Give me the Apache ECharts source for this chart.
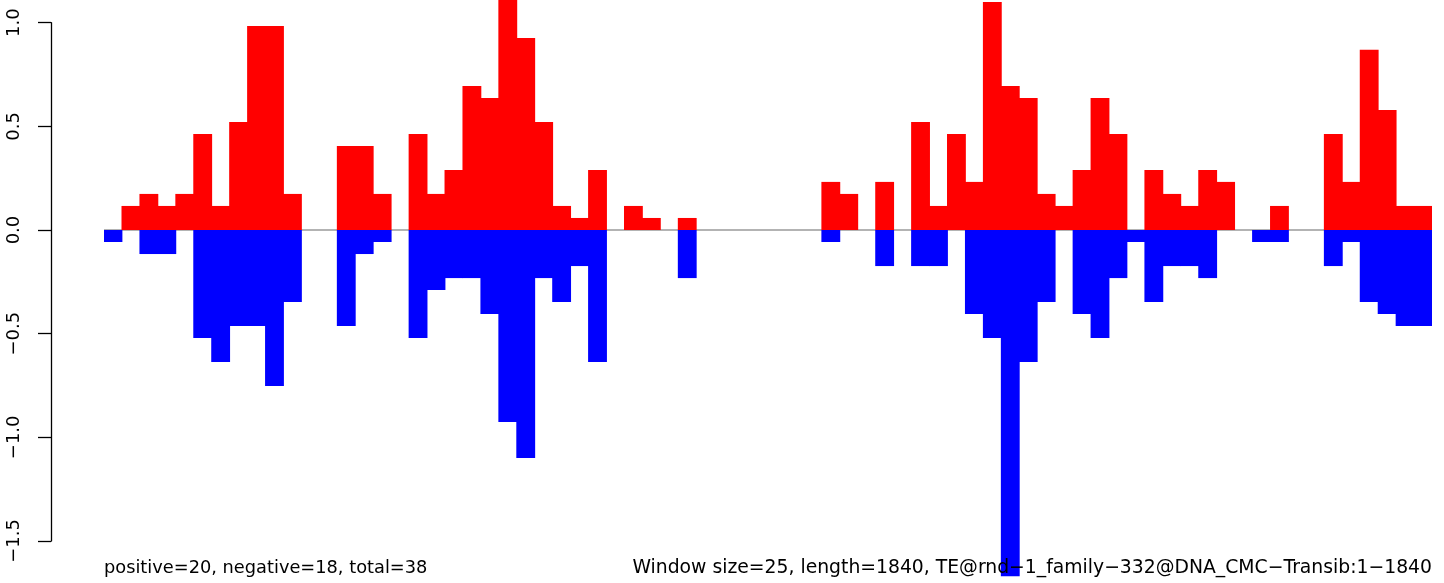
<!DOCTYPE html>
<html>
<head>
<meta charset="utf-8">
<script src="https://cdn.jsdelivr.net/npm/echarts@6/dist/echarts.min.js"></script>
<style>
html,body{margin:0;padding:0;background:#fff;}
#chart{width:1444px;height:583px;}
</style>
</head>
<body>
<div id="chart"></div>
<script>
// window index (74 windows of 25 bp over 1840 bp)
const windows = Array.from({length: 74}, (_, i) => String(i + 1));

const positive = [
  null, 0.116, 0.174, 0.116, 0.174, 0.463, 0.116, 0.521, 0.984, 0.984,
  0.174, null, null, 0.405, 0.405, 0.174, null, 0.463, 0.174, 0.290,
  0.695, 0.637, 1.158, 0.926, 0.521, 0.116, 0.058, 0.290, null, 0.116,
  0.058, null, 0.058, null, null, null, null, null, null, null,
  0.232, 0.174, null, 0.232, null, 0.521, 0.116, 0.463, 0.232, 1.100,
  0.695, 0.637, 0.174, 0.116, 0.290, 0.637, 0.463, null, 0.290, 0.174,
  0.116, 0.290, 0.232, null, null, 0.116, null, null, 0.463, 0.232,
  0.869, 0.579, 0.116, 0.116
];

const negative = [
  -0.058, null, -0.116, -0.116, null, -0.521, -0.637, -0.463, -0.463, -0.753,
  -0.347, null, null, -0.463, -0.116, -0.058, null, -0.521, -0.290, -0.232,
  -0.232, -0.405, -0.926, -1.100, -0.232, -0.347, -0.174, -0.637, null, null,
  null, null, -0.232, null, null, null, null, null, null, null,
  -0.058, null, null, -0.174, null, -0.174, -0.174, null, -0.405, -0.521,
  -1.670, -0.637, -0.347, null, -0.405, -0.521, -0.232, -0.058, -0.347, -0.174,
  -0.174, -0.232, null, null, -0.058, -0.058, null, null, -0.174, -0.058,
  -0.347, -0.405, -0.463, -0.463
];

const yTicks = [-1.5, -1.0, -0.5, 0.0, 0.5, 1.0];

const leftText = 'positive=20, negative=18, total=38';
const rightText = 'Window size=25, length=1840, TE@rnd\u22121_family\u2212332@DNA_CMC\u2212Transib:1\u22121840';

const FONT = '"DejaVu Sans", "Liberation Sans", sans-serif';

const chart = echarts.init(document.getElementById('chart'), null, {renderer: 'canvas'});

const option = {
  animation: false,
  backgroundColor: '#ffffff',
  grid: [
    {left: 104, right: 12, top: 0, bottom: 6},
    {left: 51, width: 1, top: 22.7, height: 518.3}
  ],
  xAxis: [
    {type: 'category', data: windows, gridIndex: 0, show: false, boundaryGap: true},
    {type: 'value', gridIndex: 1, show: false, min: 0, max: 1}
  ],
  yAxis: [
    {type: 'value', gridIndex: 0, show: false, min: -1.674, max: 1.1095},
    {
      type: 'value', gridIndex: 1, min: yTicks[0], max: yTicks[yTicks.length - 1], interval: 0.5,
      axisLine: {show: true, lineStyle: {color: '#000', width: 1.3}},
      axisTick: {show: true, length: 13, lineStyle: {color: '#000', width: 1.3}},
      splitLine: {show: false},
      axisLabel: {
        rotate: 90, margin: 28, align: 'center', verticalAlign: 'bottom',
        color: '#000', fontSize: 18, fontFamily: FONT,
        formatter: v => v.toFixed(1).replace('-', '\u2212')
      }
    }
  ],
  series: [
    {
      type: 'line', data: [], xAxisIndex: 0, yAxisIndex: 0, z: 1, symbol: 'none',
      markLine: {
        silent: true, symbol: 'none', label: {show: false}, z: 1,
        lineStyle: {color: '#9a9a9a', width: 1.6, type: 'solid'},
        data: [{yAxis: 0}]
      }
    },
    {
      type: 'bar', name: 'positive', data: positive, xAxisIndex: 0, yAxisIndex: 0,
      barWidth: '105%', barGap: '-100%', clip: true, z: 3,
      itemStyle: {color: '#ff0000'}
    },
    {
      type: 'bar', name: 'negative', data: negative, xAxisIndex: 0, yAxisIndex: 0,
      barWidth: '105%', barGap: '-100%', clip: true, z: 3,
      itemStyle: {color: '#0000ff'}
    },
    {type: 'scatter', data: [], xAxisIndex: 1, yAxisIndex: 1}
  ],
  graphic: [
    {type: 'text', left: 104, top: 559, z: 100,
     style: {text: leftText, font: '17.8px ' + FONT, fill: '#000'}},
    {type: 'text', right: 12, top: 559, z: 100,
     style: {text: rightText, font: '18.8px ' + FONT, fill: '#000'}}
  ]
};
chart.setOption(option);
</script>
</body>
</html>
